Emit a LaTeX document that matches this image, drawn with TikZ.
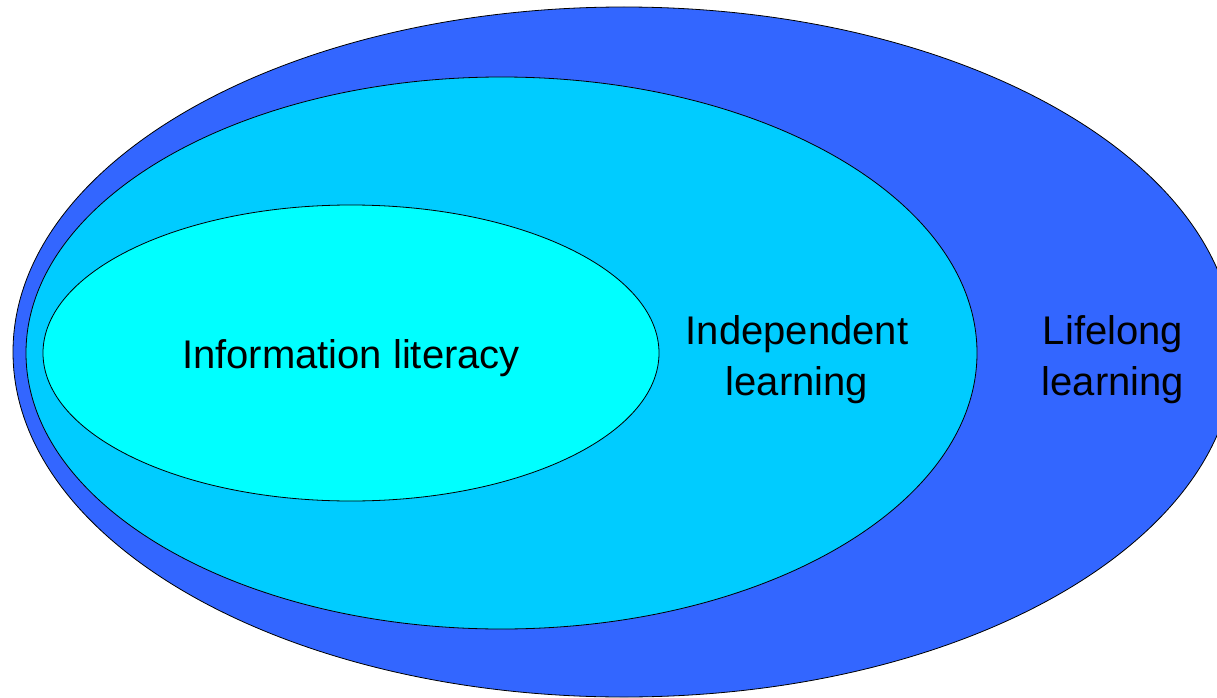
\documentclass[tikz,border=0pt]{standalone}
\usepackage{fontspec}
\setmainfont{Liberation Sans}
\usetikzlibrary{shapes.geometric}
\definecolor{outerblue}{HTML}{3366FF}
\definecolor{midblue}{HTML}{00CCFF}
\definecolor{innercyan}{HTML}{00FFFF}
\tikzset{
  ring/.style={ellipse, draw=black, line width=0.8pt, inner sep=0pt, outer sep=0pt},
  label/.style={font=\fontsize{40}{51}\selectfont, align=center, inner sep=0pt, text=black}
}
\begin{document}
\begin{tikzpicture}[x=1pt,y=-1pt]
\useasboundingbox (0,0) rectangle (1217,698);
\clip (0,0) rectangle (1217,698);
\node[ring, fill=outerblue, minimum width=1222pt, minimum height=690pt] (outer) at (624,352) {};
\node[ring, fill=midblue, minimum width=951pt, minimum height=552pt] (middle) at (501.5,353) {};
\node[ring, fill=innercyan, minimum width=616pt, minimum height=296pt] (inner) at (351,353) {};
\node[label, anchor=base] (info) at (351,368) {Information literacy};
\node[label] (indep) at (797,360) {Independent\\learning};
\node[label] (life) at (1113,360) {Lifelong\\learning};
\end{tikzpicture}
\end{document}
